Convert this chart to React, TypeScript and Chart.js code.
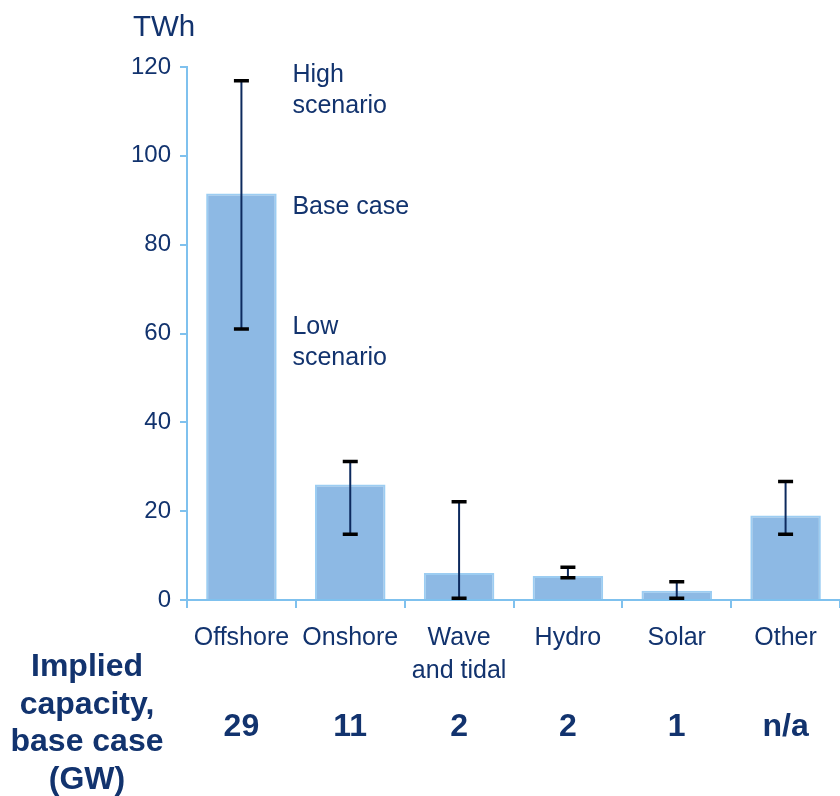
import React, { useEffect, useRef } from "react";
import { Chart, registerables } from "chart.js";

Chart.register(...registerables);

const categories: string[][] = [["Offshore"], ["Onshore"], ["Wave", "and tidal"], ["Hydro"], ["Solar"], ["Other"]];
const baseCase: number[] = [91.5, 26.0, 6.1, 5.4, 2.1, 19.0];
const highScenario: number[] = [116.9, 31.2, 22.1, 7.4, 4.1, 26.7];
const lowScenario: number[] = [61.0, 14.8, 0.4, 5.0, 0.4, 14.8];
const capacityGW: string[] = ["29", "11", "2", "2", "1", "n/a"];
const capacityTitle: string[] = ["Implied", "capacity,", "base case", "(GW)"];
const annotationHigh: string[] = ["High", "scenario"];
const annotationBase: string[] = ["Base case"];
const annotationLow: string[] = ["Low", "scenario"];
const yUnit = "TWh";
const yMin = 0;
const yMax = 120;
const yStep = 20;

const NAVY = "#12336E";
const AXIS = "#7FC1EE";
const FONT = "'Liberation Sans', Arial, sans-serif";

const overlayPlugin = {
  id: "overlay",
  afterDatasetsDraw(chart: any) {
    const ctx = chart.ctx;
    const x = chart.scales.x;
    const y = chart.scales.y;
    ctx.save();
    for (let i = 0; i < baseCase.length; i++) {
      const cx = x.getPixelForValue(i);
      const yh = y.getPixelForValue(highScenario[i]);
      const yl = y.getPixelForValue(lowScenario[i]);
      ctx.strokeStyle = "#0D2A5E";
      ctx.lineWidth = 2;
      ctx.beginPath();
      ctx.moveTo(cx, yh);
      ctx.lineTo(cx, yl);
      ctx.stroke();
      ctx.strokeStyle = "#000000";
      ctx.lineWidth = 3.5;
      ctx.beginPath();
      ctx.moveTo(cx - 7.5, yh);
      ctx.lineTo(cx + 7.5, yh);
      ctx.moveTo(cx - 7.5, yl);
      ctx.lineTo(cx + 7.5, yl);
      ctx.stroke();
    }
    ctx.restore();
  },
  afterDraw(chart: any) {
    const ctx = chart.ctx;
    const x = chart.scales.x;
    const y = chart.scales.y;
    ctx.save();
    ctx.fillStyle = NAVY;
    ctx.textBaseline = "alphabetic";
    ctx.textAlign = "left";
    ctx.font = `29.5px ${FONT}`;
    ctx.fillText(yUnit, 133, 36);
    const ax = x.getPixelForValue(0) + 51;
    ctx.font = `25px ${FONT}`;
    const yh = y.getPixelForValue(highScenario[0]);
    annotationHigh.forEach((t, k) => ctx.fillText(t, ax, yh + 1 + k * 31));
    const yb = y.getPixelForValue(baseCase[0]);
    annotationBase.forEach((t, k) => ctx.fillText(t, ax, yb + 20 + k * 31));
    const yl = y.getPixelForValue(lowScenario[0]);
    annotationLow.forEach((t, k) => ctx.fillText(t, ax, yl + 4.5 + k * 31));
    ctx.font = `bold 32px ${FONT}`;
    ctx.textAlign = "center";
    capacityTitle.forEach((t, k) => ctx.fillText(t, 87, 676 + k * 37.5));
    for (let i = 0; i < capacityGW.length; i++) {
      ctx.fillText(capacityGW[i], x.getPixelForValue(i), 736);
    }
    ctx.restore();
  },
};

export default function App() {
  const ref = useRef<HTMLCanvasElement | null>(null);
  useEffect(() => {
    if (!ref.current) return;
    const chart = new Chart(ref.current, {
      type: "bar",
      data: {
        labels: categories,
        datasets: [
          {
            data: baseCase,
            backgroundColor: "#8DB9E4",
            borderColor: "#9CCDF2",
            borderWidth: 2,
            barPercentage: 0.9,
            categoryPercentage: 0.72,
          },
        ],
      },
      options: {
        responsive: false,
        animation: false,
        layout: { padding: { top: 67, left: 0, right: -2, bottom: 0 } },
        plugins: { legend: { display: false }, tooltip: { enabled: false } },
        scales: {
          x: {
            afterFit: (s: any) => {
              s.height = 196;
            },
            border: { display: true, color: AXIS, width: 2 },
            grid: {
              display: true,
              drawOnChartArea: false,
              drawTicks: true,
              tickLength: 8,
              color: AXIS,
              lineWidth: 2,
              offset: true,
            },
            ticks: {
              color: NAVY,
              font: { family: FONT, size: 25, lineHeight: 1.3 },
              padding: 14,
              maxRotation: 0,
              autoSkip: false,
            },
          },
          y: {
            min: yMin,
            max: yMax,
            afterFit: (s: any) => {
              s.width = 187;
            },
            border: { display: true, color: AXIS, width: 2 },
            grid: {
              display: true,
              drawOnChartArea: false,
              drawTicks: true,
              tickLength: 7,
              color: AXIS,
              lineWidth: 2,
            },
            ticks: {
              stepSize: yStep,
              color: NAVY,
              font: { family: FONT, size: 24 },
              padding: 9,
            },
          },
        },
      },
      plugins: [overlayPlugin],
    });
    return () => chart.destroy();
  }, []);
  return (
    <div style={{ position: "absolute", left: 0, top: 0, width: 840, height: 796, background: "#fff" }}>
      <canvas ref={ref} width={840} height={796} style={{ display: "block", width: 840, height: 796 }} />
    </div>
  );
}
